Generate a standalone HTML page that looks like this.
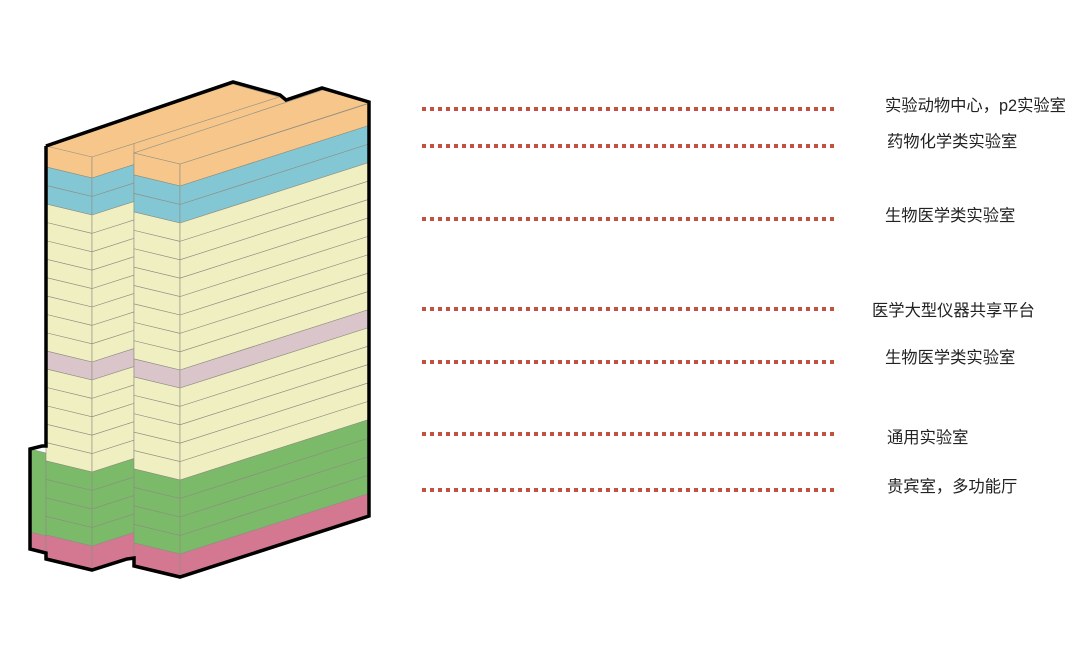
<!DOCTYPE html>
<html><head><meta charset="utf-8"><style>
body{margin:0;background:#fff;width:1080px;height:659px;overflow:hidden;position:relative}
svg{position:absolute;left:0;top:0}
.t{position:absolute;font-family:"Liberation Sans","Noto Sans CJK SC",sans-serif;font-size:16.3px;color:#222;white-space:nowrap;line-height:1}
</style></head><body>
<svg id="s" width="1080" height="659" xmlns="http://www.w3.org/2000/svg">
<g id="g"></g>
<g stroke="#c4503e" stroke-width="4" stroke-dasharray="4 4">
<line x1="422" y1="109" x2="838" y2="109"/>
<line x1="422" y1="146" x2="838" y2="146"/>
<line x1="422" y1="219" x2="838" y2="219"/>
<line x1="422" y1="309" x2="838" y2="309"/>
<line x1="422" y1="362" x2="838" y2="362"/>
<line x1="422" y1="434" x2="838" y2="434"/>
<line x1="422" y1="490" x2="838" y2="490"/>
</g>
</svg>
<div class="t" style="left:885px;top:98px">实验动物中心，p2实验室</div>
<div class="t" style="left:887px;top:134px">药物化学类实验室</div>
<div class="t" style="left:885px;top:208px">生物医学类实验室</div>
<div class="t" style="left:872px;top:303px">医学大型仪器共享平台</div>
<div class="t" style="left:885px;top:350px">生物医学类实验室</div>
<div class="t" style="left:887px;top:430px">通用实验室</div>
<div class="t" style="left:887px;top:479px">贵宾室，多功能厅</div>
<script>
var g=document.getElementById('g'),NS='http://www.w3.org/2000/svg';
function poly(p,fill,stroke,sw){var e=document.createElementNS(NS,'polygon');e.setAttribute('points',p.map(function(q){return q[0]+','+q[1]}).join(' '));e.setAttribute('fill',fill);e.setAttribute('stroke',stroke||'#8e8e80');e.setAttribute('stroke-width',sw||0.6);g.appendChild(e);}
var a=0.24,b=0.32;
var C={o:'#f6c68b',bl:'#84c7d4',y:'#efefc2',p:'#dac5cb',gr:'#7aba69',pk:'#d47892'};
function block(xl,xc,xr,levels){
 for(var i=0;i<levels.length-1;i++){
  var t=levels[i][0],bt=levels[i+1][0],c=levels[i][1];
  poly([[xl,t-(xc-xl)*a],[xc,t],[xc,bt],[xl,bt-(xc-xl)*a]],c);
  poly([[xc,t],[xr,t-(xr-xc)*b],[xr,bt-(xr-xc)*b],[xc,bt]],c);
 }
}
function lv(off){
 var L=[];
 L.push([156+off,C.o]);
 L.push([178+off,C.bl]);L.push([196.5+off,C.bl]);
 for(var i=0;i<8;i++)L.push([215+off+i*18.4,C.y]);
 L.push([362+off,C.p]);
 for(i=0;i<5;i++)L.push([380+off+i*18.4,C.y]);
 for(i=0;i<4;i++)L.push([472+off+i*18.5,C.gr]);
 L.push([546+off,C.pk]);
 L.push([570+off,null]);
 return L;
}
// roof background
poly([[46,146],[233,82],[280,95],[286,100],[322,88],[369,102],[369,130],[46,200]],C.o,'none',0);
// podium
poly([[30,449],[46,453],[46,536],[30,532]],C.gr);
poly([[30,532],[46,536],[46,553],[30,549]],C.pk);
block(46,92,134,lv(0));
poly([[46,146],[92,157],[279,97],[233,84]],C.o);
block(134,180,369,lv(8));
poly([[134,153],[180,164],[369,103],[323,90]],C.o);
// outline
var o=document.createElementNS(NS,'polyline');
o.setAttribute('points','46,146 233,82 280,95 286,100 322,88 369,102 369,516 180,577 134,566 134,558 127,559 92,570 46,559 46,553 30,549 30,449 42,446 46,446 46,146');
o.setAttribute('fill','none');o.setAttribute('stroke','#000');o.setAttribute('stroke-width','3.5');o.setAttribute('stroke-linejoin','miter');
g.appendChild(o);
</script>
</body></html>
